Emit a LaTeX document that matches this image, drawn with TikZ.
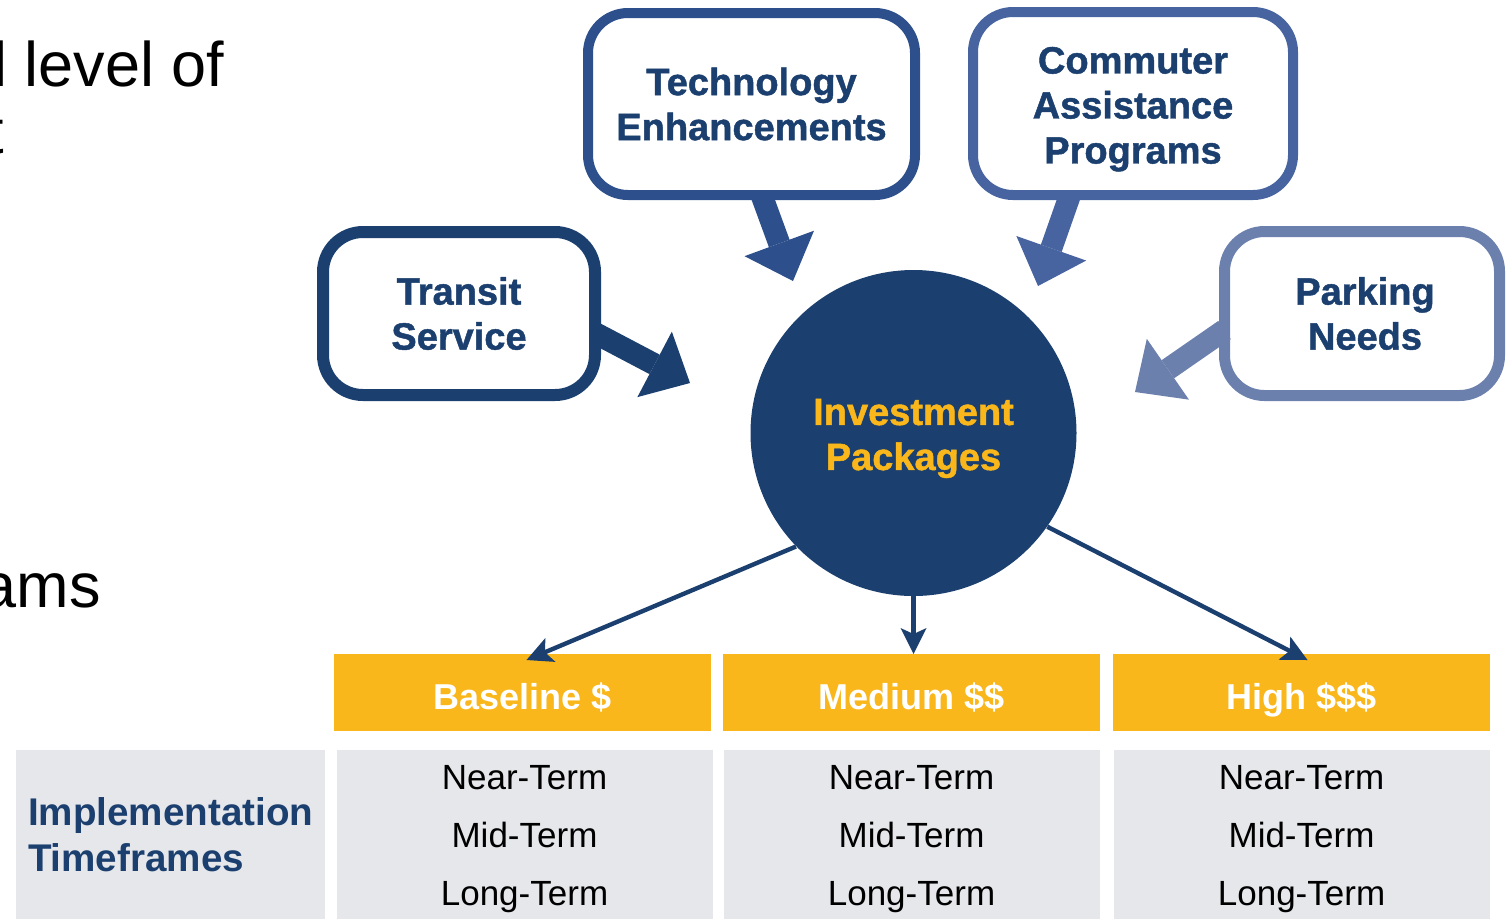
\documentclass[tikz,border=0pt]{standalone}
\usepackage{fontspec}
\setmainfont{Liberation Sans}
\newfontfamily\heavyfont[FakeBold=1.2]{Liberation Sans Bold}
\usepackage{xcolor,tikz}
\usetikzlibrary{arrows.meta,positioning,calc}
\tikzset{>=stealth}
\definecolor{navy}{HTML}{1B3F6E}
\definecolor{techblue}{HTML}{2D4F8B}
\definecolor{commblue}{HTML}{4764A0}
\definecolor{parkblue}{HTML}{6C80AE}
\definecolor{gold}{HTML}{F9B71B}
\definecolor{cellgray}{HTML}{E6E7EB}
\tikzset{
  topicbox/.style={draw, fill=white, rounded corners=20pt, outer sep=0pt, align=center,
    text=navy, font=\heavyfont\fontsize{19}{22.5}\selectfont},
  blockarrow/.style={line width=11pt, -{Triangle[length=20pt,width=37pt,line width=0pt]}},
  thinarrow/.style={draw=navy, line width=2.2pt, -{Stealth[length=13pt,width=13pt,inset=3pt,line width=0pt]}},
  headbar/.style={fill=gold, minimum width=188.5pt, minimum height=38.5pt, outer sep=0pt,
    text height=17pt, text depth=0pt, text=white, font=\bfseries\fontsize{18}{21}\selectfont},
  termcell/.style={fill=cellgray, minimum width=188pt, minimum height=89pt, outer sep=0pt,
    align=center, font=\fontsize{17.5}{29}\selectfont},
  slidetext/.style={inner sep=0pt, font=\fontsize{31.5}{37}\selectfont},
}
\begin{document}
\begin{tikzpicture}[x=0.5pt,y=-0.5pt]
\useasboundingbox (0,0) rectangle (1509,918);
\clip (0,0) rectangle (1509,918);
% slide text cut off at the left
\node[slidetext, anchor=base east] (lvl) at (225,86) {l level of};
\node[slidetext, anchor=base east] (cut) at (4.5,153) {t};
\node[slidetext, anchor=base east] (ams) at (101,607) {ams};
% topic boxes
\node[topicbox, draw=techblue, line width=5pt, minimum width=163.5pt, minimum height=91pt] (tech) at (751.5,104) {Technology\\Enhancements};
\node[topicbox, draw=commblue, line width=5pt, minimum width=160pt, minimum height=91.5pt, text height=64pt] (comm) at (1133,103.5) {Commuter\\Assistance\\Programs};
\node[topicbox, draw=navy, line width=6pt, minimum width=136pt, minimum height=81.5pt] (transit) at (459,313.5) {Transit\\Service};
\node[topicbox, draw=parkblue, line width=5.5pt, minimum width=137.5pt, minimum height=82pt] (park) at (1362,313.5) {\hspace*{3pt}Parking\\\hspace*{3pt}Needs};
% centre
\node[circle, fill=navy, minimum size=163pt, inner sep=0pt, align=center, text=gold, text height=41pt,
  font=\heavyfont\fontsize{19}{22.5}\selectfont] (pkg) at (913.5,433) {Investment\\Packages};
\coordinate (techtip) at (793,281);
\coordinate (commtip) at (1038,286);
\coordinate (transittip) at (690,383);
\coordinate (parktip) at (1135,392);
\draw[blockarrow, techblue] ([xshift=5pt]tech.south) -- (techtip);
\draw[blockarrow, commblue] ([xshift=-31.5pt]comm.south) -- (commtip);
\draw[blockarrow, navy] ([yshift=-9.75pt]transit.east) -- (transittip);
\draw[blockarrow, parkblue] ([yshift=-8.25pt]park.west) -- (parktip);
% cost levels
\node[headbar] (base) at (522.5,692.5) {Baseline \$};
\node[headbar] (med) at (911.5,692.5) {Medium \$\$};
\node[headbar] (high) at (1301.5,692.5) {High \$\$\$};
\draw[thinarrow] (pkg.-136) -- ([xshift=2pt,yshift=-3pt]base.north);
\draw[thinarrow] (pkg.south) -- (pkg.south |- med.north);
\draw[thinarrow] (pkg.-35) -- ([xshift=3pt,yshift=-3pt]high.north);
% timeframes
\node[termcell, minimum width=154.5pt, minimum height=85pt, text width=142.5pt, inner xsep=6pt,
  align=left, text=navy, font=\bfseries\fontsize{19.3}{23}\selectfont] (tf) at (170.5,835) {Implementation\\Timeframes};
\node[termcell] (basecell) at (524.5,839) {Near-Term\\Mid-Term\\Long-Term};
\node[termcell] (medcell) at (911.5,839) {Near-Term\\Mid-Term\\Long-Term};
\node[termcell] (highcell) at (1301.5,839) {Near-Term\\Mid-Term\\Long-Term};
\end{tikzpicture}
\end{document}
